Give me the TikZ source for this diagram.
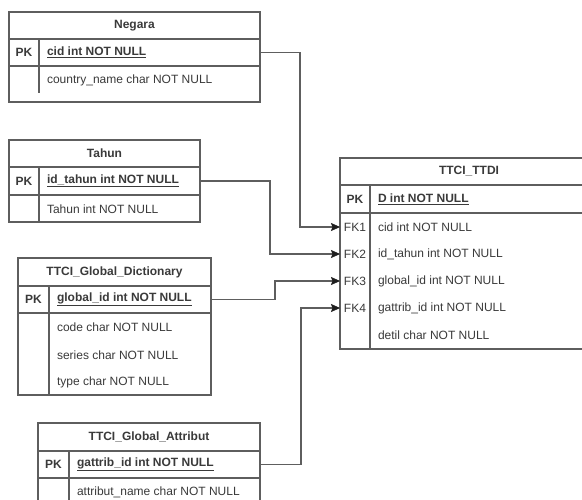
\documentclass[tikz,border=0pt]{standalone}
\usepackage{fontspec}
\setmainfont{Liberation Sans}
\usetikzlibrary{arrows.meta}
\definecolor{linec}{HTML}{5E5E5E}
\definecolor{textc}{HTML}{3A3A3A}
\definecolor{tipc}{HTML}{1E1E1E}
\begin{document}
\begin{tikzpicture}[x=1pt,y=-1pt,
  every node/.style={inner sep=0pt, outer sep=0pt},
  row/.style n args={2}{draw=linec, line width=1.2pt, fill=white,
    anchor=north west, minimum width=#1, minimum height=#2},
  divider/.style={draw=linec, line width=1.2pt},
  label/.style={text=textc, font=\fontsize{12}{14}\selectfont},
  heading/.style={label, font=\fontsize{12}{14}\selectfont\bfseries},
  keytext/.style={heading},
  field/.style={label, anchor=west},
  pkfield/.style={heading, anchor=west},
  fkcell/.style={label, minimum width=30pt, minimum height=20pt},
  link/.style={draw=linec, line width=1.2pt,
    -{Stealth[length=9pt,width=8pt,inset=1.5pt,color=tipc,line width=0.4pt]}},
]
\clip (0,0) rectangle (582,499);
\fill[white] (0,0) rectangle (582,499);

% ---------- Negara ----------
\node[row={251pt}{27pt}] (neg-title) at (9,12) {};
\node[row={251pt}{27pt}] (neg-pk) at (9,39) {};
\node[row={251pt}{36pt}] (neg-body) at (9,66) {};
\draw[divider] (39,39) -- (39,93);
\node[heading] at (neg-title.center) {Negara};
\node[keytext] at (24,52.5) {PK};
\node[pkfield] at (47,52.5) {\underline{cid int NOT NULL}};
\node[field] at (47,80) {country\_name char NOT NULL};

% ---------- Tahun ----------
\node[row={191pt}{27pt}] (thn-title) at (9,140) {};
\node[row={191pt}{28pt}] (thn-pk) at (9,167) {};
\node[row={191pt}{27pt}] (thn-body) at (9,195) {};
\draw[divider] (39,167) -- (39,222);
\node[heading] at (thn-title.center) {Tahun};
\node[keytext] at (24,181) {PK};
\node[pkfield] at (47,181) {\underline{id\_tahun int NOT NULL}};
\node[field] at (47,209) {Tahun int NOT NULL};

% ---------- TTCI_Global_Dictionary ----------
\node[row={193pt}{28pt}] (dic-title) at (18,258) {};
\node[row={193pt}{27pt}] (dic-pk) at (18,286) {};
\node[row={193pt}{82pt}] (dic-body) at (18,313) {};
\draw[divider] (49,286) -- (49,395);
\node[heading] at (dic-title.center) {TTCI\_Global\_Dictionary};
\node[keytext] at (33.5,299.5) {PK};
\node[pkfield] at (57,299.5) {\underline{global\_id int NOT NULL}};
\node[field] at (57,327) {code char NOT NULL};
\node[field] at (57,355) {series char NOT NULL};
\node[field] at (57,382) {type char NOT NULL};

% ---------- TTCI_Global_Attribut ----------
\node[row={222pt}{28pt}] (atr-title) at (38,423) {};
\node[row={222pt}{27pt}] (atr-pk) at (38,451) {};
\node[row={222pt}{45pt}] (atr-body) at (38,478) {};
\draw[divider] (69,451) -- (69,523);
\node[heading] at (atr-title.center) {TTCI\_Global\_Attribut};
\node[keytext] at (53.5,464.5) {PK};
\node[pkfield] at (77,464.5) {\underline{gattrib\_id int NOT NULL}};
\node[field] at (77,492) {attribut\_name char NOT NULL};

% ---------- TTCI_TTDI ----------
\node[row={258pt}{27pt}] (ttd-title) at (340,158) {};
\node[row={258pt}{28pt}] (ttd-pk) at (340,185) {};
\node[row={258pt}{136pt}] (ttd-body) at (340,213) {};
\draw[divider] (370,185) -- (370,349);
\node[heading] at (ttd-title.center) {TTCI\_TTDI};
\node[keytext] at (355,199) {PK};
\node[pkfield] at (378,199) {\underline{D int NOT NULL}};
\node[fkcell] (fk1) at (355,227) {FK1};
\node[fkcell] (fk2) at (355,254) {FK2};
\node[fkcell] (fk3) at (355,281) {FK3};
\node[fkcell] (fk4) at (355,308) {FK4};
\node[field] at (378,227) {cid int NOT NULL};
\node[field] at (378,254) {id\_tahun int NOT NULL};
\node[field] at (378,281) {global\_id int NOT NULL};
\node[field] at (378,308) {gattrib\_id int NOT NULL};
\node[field] at (378,335) {detil char NOT NULL};

% ---------- relationships ----------
\draw[link] (neg-pk.east) -- (300,52.5) |- (fk1.west);
\draw[link] (thn-pk.east) -- (270,181) |- (fk2.west);
\draw[link] (dic-pk.east) -- (275,299.5) |- (fk3.west);
\draw[link] (atr-pk.east) -- (301,464.5) |- (fk4.west);
\end{tikzpicture}
\end{document}
